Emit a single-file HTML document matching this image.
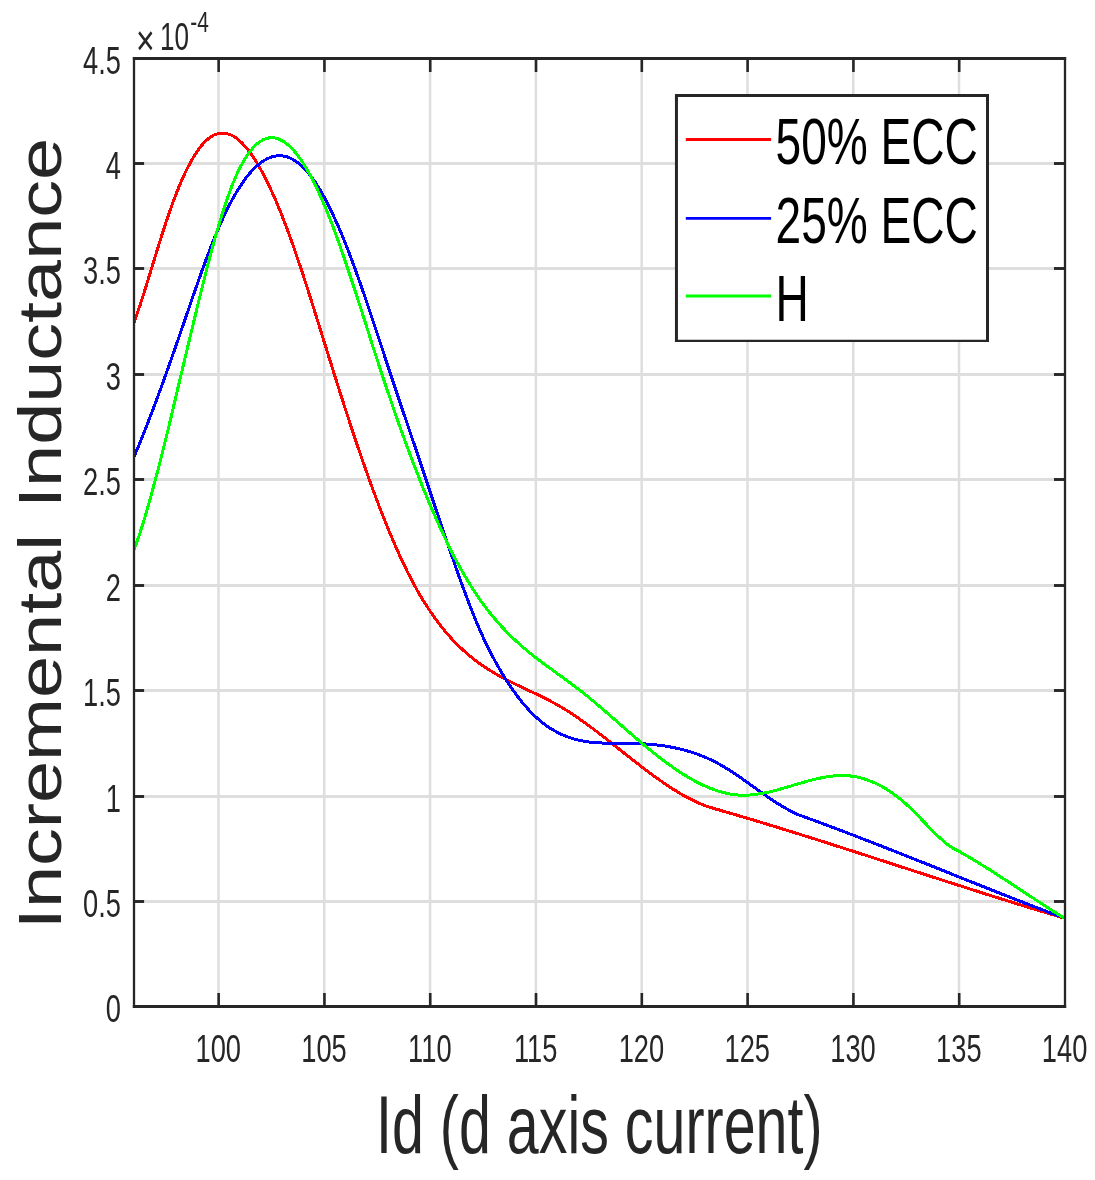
<!DOCTYPE html><html><head><meta charset="utf-8"><title>Incremental Inductance</title>
<style>html,body{margin:0;padding:0;background:#fff}svg{display:block;will-change:transform}text{font-family:"Liberation Sans",Arial,Helvetica,sans-serif}</style></head><body>
<svg width="1095" height="1180" viewBox="0 0 1095 1180">
<rect width="1095" height="1180" fill="#fff"/>
<g stroke="#dedede"><line x1="218.49" y1="58.50" x2="218.49" y2="1006.50" stroke-width="2.50"/><line x1="324.28" y1="58.50" x2="324.28" y2="1006.50" stroke-width="2.50"/><line x1="430.08" y1="58.50" x2="430.08" y2="1006.50" stroke-width="2.50"/><line x1="535.87" y1="58.50" x2="535.87" y2="1006.50" stroke-width="2.50"/><line x1="641.67" y1="58.50" x2="641.67" y2="1006.50" stroke-width="2.50"/><line x1="747.46" y1="58.50" x2="747.46" y2="1006.50" stroke-width="2.50"/><line x1="853.26" y1="58.50" x2="853.26" y2="1006.50" stroke-width="2.50"/><line x1="959.05" y1="58.50" x2="959.05" y2="1006.50" stroke-width="2.50"/><line x1="134.00" y1="901.50" x2="1065.00" y2="901.50" stroke-width="2.90"/><line x1="134.00" y1="796.50" x2="1065.00" y2="796.50" stroke-width="2.90"/><line x1="134.00" y1="690.50" x2="1065.00" y2="690.50" stroke-width="2.90"/><line x1="134.00" y1="585.50" x2="1065.00" y2="585.50" stroke-width="2.90"/><line x1="134.00" y1="479.50" x2="1065.00" y2="479.50" stroke-width="2.90"/><line x1="134.00" y1="374.50" x2="1065.00" y2="374.50" stroke-width="2.90"/><line x1="134.00" y1="268.50" x2="1065.00" y2="268.50" stroke-width="2.90"/><line x1="134.00" y1="163.50" x2="1065.00" y2="163.50" stroke-width="2.90"/></g>
<g fill="none" stroke-width="3.00" stroke-linejoin="round" transform="scale(1.000 1)" shape-rendering="crispEdges">
<path d="M134.0 323.0C135.0 320.1 138.0 311.4 140.0 305.3C142.0 299.2 144.0 292.8 146.0 286.4C148.0 280.0 150.0 273.4 152.0 266.9C154.0 260.4 156.0 253.8 158.0 247.4C160.0 241.0 162.0 234.6 164.0 228.4C166.0 222.3 168.0 216.3 170.0 210.6C172.0 204.9 174.0 199.5 176.0 194.3C178.0 189.2 180.0 184.4 182.0 179.8C184.0 175.3 186.0 171.0 188.0 167.1C190.0 163.2 192.0 159.6 194.0 156.3C196.0 153.1 198.0 150.1 200.0 147.5C202.0 144.9 204.0 142.7 206.0 140.7C208.0 138.8 210.0 137.3 212.0 136.1C214.0 134.9 216.0 134.1 218.0 133.6C220.0 133.1 222.0 132.9 224.0 133.1C226.0 133.3 228.0 133.8 230.0 134.6C232.0 135.4 234.0 136.5 236.0 137.9C238.0 139.3 240.0 141.0 242.0 143.0C244.0 145.0 246.0 147.3 248.0 149.8C250.0 152.4 252.0 155.2 254.0 158.2C256.0 161.3 258.0 164.6 260.0 168.1C262.0 171.6 264.0 175.4 266.0 179.4C268.0 183.4 270.0 187.6 272.0 192.0C274.0 196.4 276.0 201.0 278.0 205.8C280.0 210.6 282.0 215.6 284.0 220.8C286.0 226.0 288.0 231.3 290.0 236.8C292.0 242.3 294.0 248.0 296.0 253.8C298.0 259.6 300.0 265.5 302.0 271.6C304.0 277.6 306.0 283.8 308.0 290.1C310.0 296.4 312.0 302.7 314.0 309.1C316.0 315.5 318.0 322.0 320.0 328.4C322.0 334.8 324.0 341.3 326.0 347.7C328.0 354.1 330.0 360.5 332.0 366.9C334.0 373.3 336.0 379.7 338.0 386.0C340.0 392.3 342.0 398.6 344.0 404.8C346.0 411.0 348.0 417.2 350.0 423.3C352.0 429.4 354.0 435.4 356.0 441.4C358.0 447.3 360.0 453.2 362.0 459.0C364.0 464.7 366.0 470.4 368.0 476.0C370.0 481.6 372.0 487.1 374.0 492.5C376.0 497.9 378.0 503.2 380.0 508.4C382.0 513.5 384.0 518.6 386.0 523.6C388.0 528.5 390.0 533.3 392.0 538.0C394.0 542.7 396.0 547.3 398.0 551.8C400.0 556.2 402.0 560.5 404.0 564.7C406.0 568.9 408.0 572.9 410.0 576.8C412.0 580.7 414.0 584.5 416.0 588.1C418.0 591.7 420.0 595.1 422.0 598.5C424.0 601.8 426.0 605.0 428.0 608.0C430.0 611.1 432.0 614.0 434.0 616.8C436.0 619.6 438.0 622.3 440.0 624.9C442.0 627.5 444.0 629.9 446.0 632.3C448.0 634.7 450.0 636.9 452.0 639.1C454.0 641.2 456.0 643.3 458.0 645.3C460.0 647.3 462.0 649.1 464.0 650.9C466.0 652.7 468.0 654.5 470.0 656.1C472.0 657.8 474.0 659.3 476.0 660.8C478.0 662.4 480.0 663.8 482.0 665.2C484.0 666.6 486.0 667.9 488.0 669.2C490.0 670.4 492.0 671.7 494.0 672.8C496.0 674.0 498.0 675.1 500.0 676.3C502.0 677.4 504.0 678.4 506.0 679.5C508.0 680.5 510.0 681.5 512.0 682.5C514.0 683.5 516.0 684.5 518.0 685.4C520.0 686.4 522.0 687.3 524.0 688.3C526.0 689.2 528.0 690.2 530.0 691.1C532.0 692.0 534.0 693.0 536.0 693.9C538.0 694.9 540.0 695.9 542.0 696.8C544.0 697.8 546.0 698.8 548.0 699.9C550.0 700.9 552.0 702.0 554.0 703.0C556.0 704.1 558.0 705.3 560.0 706.4C562.0 707.6 564.0 708.8 566.0 710.0C568.0 711.3 570.0 712.6 572.0 713.9C574.0 715.2 576.0 716.6 578.0 717.9C580.0 719.3 582.0 720.7 584.0 722.2C586.0 723.6 588.0 725.1 590.0 726.5C592.0 728.0 594.0 729.5 596.0 731.0C598.0 732.6 600.0 734.1 602.0 735.6C604.0 737.2 606.0 738.7 608.0 740.3C610.0 741.9 612.0 743.5 614.0 745.0C616.0 746.6 618.0 748.2 620.0 749.8C622.0 751.4 624.0 753.0 626.0 754.6C628.0 756.1 630.0 757.7 632.0 759.3C634.0 760.9 636.0 762.4 638.0 764.0C640.0 765.5 642.0 767.1 644.0 768.6C646.0 770.1 648.0 771.6 650.0 773.1C652.0 774.6 654.0 776.1 656.0 777.5C658.0 778.9 660.0 780.4 662.0 781.7C664.0 783.1 666.0 784.5 668.0 785.8C670.0 787.1 672.0 788.4 674.0 789.7C676.0 791.0 678.0 792.2 680.0 793.4C682.0 794.5 684.0 795.7 686.0 796.8C688.0 797.9 690.0 798.9 692.0 799.9C694.0 800.9 696.0 801.8 698.0 802.7C700.0 803.6 702.0 804.5 704.0 805.3C706.0 806.0 709.0 807.1 710.0 807.4L710.0 807.4C711.0 807.6 714.0 808.5 716.0 809.1C718.0 809.6 720.0 810.2 722.0 810.8C724.0 811.4 726.0 812.0 728.0 812.5C730.0 813.1 732.0 813.7 734.0 814.3C736.0 814.9 738.0 815.5 740.0 816.1C742.0 816.7 744.0 817.3 746.0 817.8C748.0 818.4 750.0 819.0 752.0 819.6C754.0 820.2 756.0 820.8 758.0 821.4C760.0 822.1 762.0 822.7 764.0 823.3C766.0 823.9 768.0 824.5 770.0 825.1C772.0 825.7 774.0 826.3 776.0 826.9C778.0 827.5 780.0 828.2 782.0 828.8C784.0 829.4 786.0 830.0 788.0 830.6C790.0 831.3 792.0 831.9 794.0 832.5C796.0 833.1 798.0 833.8 800.0 834.4C802.0 835.0 804.0 835.6 806.0 836.3C808.0 836.9 810.0 837.5 812.0 838.1C814.0 838.8 816.0 839.4 818.0 840.0C820.0 840.7 822.0 841.3 824.0 841.9C826.0 842.6 828.0 843.2 830.0 843.9C832.0 844.5 834.0 845.1 836.0 845.8C838.0 846.4 840.0 847.1 842.0 847.7C844.0 848.3 846.0 849.0 848.0 849.6C850.0 850.3 852.0 850.9 854.0 851.5C856.0 852.2 858.0 852.8 860.0 853.5C862.0 854.1 864.0 854.8 866.0 855.4C868.0 856.1 870.0 856.7 872.0 857.4C874.0 858.0 876.0 858.7 878.0 859.3C880.0 859.9 882.0 860.6 884.0 861.2C886.0 861.9 888.0 862.5 890.0 863.2C892.0 863.8 894.0 864.5 896.0 865.1C898.0 865.8 900.0 866.4 902.0 867.1C904.0 867.7 906.0 868.4 908.0 869.0C910.0 869.7 912.0 870.3 914.0 871.0C916.0 871.6 918.0 872.3 920.0 872.9C922.0 873.6 924.0 874.2 926.0 874.9C928.0 875.5 930.0 876.1 932.0 876.8C934.0 877.4 936.0 878.1 938.0 878.7C940.0 879.4 942.0 880.0 944.0 880.7C946.0 881.3 948.0 882.0 950.0 882.6C952.0 883.2 954.0 883.9 956.0 884.5C958.0 885.2 960.0 885.8 962.0 886.4C964.0 887.1 966.0 887.7 968.0 888.4C970.0 889.0 972.0 889.6 974.0 890.3C976.0 890.9 978.0 891.5 980.0 892.2C982.0 892.8 984.0 893.4 986.0 894.1C988.0 894.7 990.0 895.3 992.0 896.0C994.0 896.6 996.0 897.2 998.0 897.9C1000.0 898.5 1002.0 899.1 1004.0 899.7C1006.0 900.4 1008.0 901.0 1010.0 901.6C1012.0 902.2 1014.0 902.9 1016.0 903.5C1018.0 904.1 1020.0 904.7 1022.0 905.3C1024.0 905.9 1026.0 906.6 1028.0 907.2C1030.0 907.8 1032.0 908.4 1034.0 909.0C1036.0 909.6 1038.0 910.2 1040.0 910.8C1042.0 911.4 1044.0 912.0 1046.0 912.6C1048.0 913.2 1050.0 913.8 1052.0 914.4C1054.0 915.0 1056.0 915.6 1058.0 916.2C1060.0 916.8 1063.0 917.7 1064.0 918.0" stroke="#ff0000"/>
<path d="M134.0 457.0C135.0 454.6 138.0 447.5 140.0 442.6C142.0 437.6 144.0 432.6 146.0 427.5C148.0 422.4 150.0 417.3 152.0 412.0C154.0 406.7 156.0 401.4 158.0 396.0C160.0 390.6 162.0 385.1 164.0 379.6C166.0 374.0 168.0 368.4 170.0 362.8C172.0 357.1 174.0 351.4 176.0 345.7C178.0 339.9 180.0 334.1 182.0 328.3C184.0 322.5 186.0 316.6 188.0 310.8C190.0 305.0 192.0 299.2 194.0 293.4C196.0 287.7 198.0 281.9 200.0 276.3C202.0 270.7 204.0 265.2 206.0 259.8C208.0 254.5 210.0 249.2 212.0 244.1C214.0 239.0 216.0 234.1 218.0 229.4C220.0 224.7 222.0 220.2 224.0 216.0C226.0 211.7 228.0 207.7 230.0 203.8C232.0 200.0 234.0 196.4 236.0 193.0C238.0 189.7 240.0 186.5 242.0 183.6C244.0 180.6 246.0 177.9 248.0 175.4C250.0 173.0 252.0 170.7 254.0 168.7C256.0 166.7 258.0 164.9 260.0 163.3C262.0 161.8 264.0 160.5 266.0 159.4C268.0 158.3 270.0 157.5 272.0 156.9C274.0 156.3 276.0 155.9 278.0 155.8C280.0 155.7 282.0 155.8 284.0 156.1C286.0 156.5 288.0 157.1 290.0 158.0C292.0 158.8 294.0 160.0 296.0 161.3C298.0 162.7 300.0 164.3 302.0 166.1C304.0 168.0 306.0 170.1 308.0 172.5C310.0 174.9 312.0 177.5 314.0 180.4C316.0 183.3 318.0 186.4 320.0 189.8C322.0 193.1 324.0 196.7 326.0 200.5C328.0 204.3 330.0 208.3 332.0 212.5C334.0 216.7 336.0 221.2 338.0 225.7C340.0 230.3 342.0 235.1 344.0 240.0C346.0 244.9 348.0 250.0 350.0 255.3C352.0 260.5 354.0 265.9 356.0 271.4C358.0 276.9 360.0 282.6 362.0 288.3C364.0 294.1 366.0 299.9 368.0 305.9C370.0 311.8 372.0 317.8 374.0 323.8C376.0 329.9 378.0 336.0 380.0 342.0C382.0 348.1 384.0 354.3 386.0 360.3C388.0 366.4 390.0 372.5 392.0 378.5C394.0 384.5 396.0 390.4 398.0 396.4C400.0 402.4 402.0 408.3 404.0 414.2C406.0 420.1 408.0 426.0 410.0 431.9C412.0 437.8 414.0 443.7 416.0 449.6C418.0 455.5 420.0 461.5 422.0 467.4C424.0 473.4 426.0 479.4 428.0 485.3C430.0 491.3 432.0 497.3 434.0 503.3C436.0 509.2 438.0 515.2 440.0 521.1C442.0 527.1 444.0 533.0 446.0 538.8C448.0 544.7 450.0 550.6 452.0 556.3C454.0 562.1 456.0 567.8 458.0 573.5C460.0 579.1 462.0 584.7 464.0 590.1C466.0 595.5 468.0 600.8 470.0 606.0C472.0 611.1 474.0 616.2 476.0 621.0C478.0 625.8 480.0 630.4 482.0 634.8C484.0 639.3 486.0 643.5 488.0 647.5C490.0 651.6 492.0 655.4 494.0 659.1C496.0 662.9 498.0 666.4 500.0 669.8C502.0 673.2 504.0 676.5 506.0 679.7C508.0 682.8 510.0 685.8 512.0 688.7C514.0 691.6 516.0 694.4 518.0 697.0C520.0 699.6 522.0 702.1 524.0 704.5C526.0 706.8 528.0 709.1 530.0 711.2C532.0 713.3 534.0 715.3 536.0 717.1C538.0 719.0 540.0 720.7 542.0 722.3C544.0 723.9 546.0 725.4 548.0 726.8C550.0 728.1 552.0 729.4 554.0 730.5C556.0 731.7 558.0 732.7 560.0 733.7C562.0 734.6 564.0 735.5 566.0 736.3C568.0 737.1 570.0 737.7 572.0 738.4C574.0 739.0 576.0 739.5 578.0 740.0C580.0 740.4 582.0 740.8 584.0 741.2C586.0 741.5 588.0 741.8 590.0 742.1C592.0 742.3 594.0 742.5 596.0 742.7C598.0 742.8 600.0 743.0 602.0 743.0C604.0 743.1 606.0 743.2 608.0 743.2C610.0 743.3 612.0 743.3 614.0 743.3C616.0 743.3 618.0 743.3 620.0 743.4C622.0 743.4 624.0 743.4 626.0 743.4C628.0 743.4 630.0 743.4 632.0 743.5C634.0 743.5 636.0 743.6 638.0 743.6C640.0 743.7 642.0 743.8 644.0 743.9C646.0 744.0 648.0 744.2 650.0 744.3C652.0 744.5 654.0 744.7 656.0 744.9C658.0 745.1 660.0 745.4 662.0 745.6C664.0 745.9 666.0 746.2 668.0 746.5C670.0 746.9 672.0 747.3 674.0 747.7C676.0 748.1 678.0 748.5 680.0 749.0C682.0 749.5 684.0 750.0 686.0 750.5C688.0 751.1 690.0 751.7 692.0 752.3C694.0 753.0 696.0 753.7 698.0 754.4C700.0 755.2 702.0 755.9 704.0 756.8C706.0 757.6 708.0 758.5 710.0 759.4C712.0 760.4 714.0 761.3 716.0 762.4C718.0 763.4 720.0 764.5 722.0 765.7C724.0 766.8 726.0 768.1 728.0 769.3C730.0 770.6 732.0 771.9 734.0 773.2C736.0 774.5 738.0 775.9 740.0 777.3C742.0 778.6 744.0 780.1 746.0 781.5C748.0 782.9 750.0 784.3 752.0 785.8C754.0 787.2 756.0 788.6 758.0 790.1C760.0 791.5 762.0 792.9 764.0 794.3C766.0 795.7 768.0 797.1 770.0 798.5C772.0 799.8 774.0 801.2 776.0 802.4C778.0 803.7 780.0 805.0 782.0 806.2C784.0 807.4 786.0 808.5 788.0 809.6C790.0 810.7 792.0 811.8 794.0 812.7C796.0 813.7 799.0 815.0 800.0 815.4L800.0 815.4C801.0 815.7 804.0 816.8 806.0 817.5C808.0 818.3 810.0 819.0 812.0 819.7C814.0 820.4 816.0 821.2 818.0 821.9C820.0 822.6 822.0 823.4 824.0 824.1C826.0 824.9 828.0 825.6 830.0 826.4C832.0 827.1 834.0 827.9 836.0 828.6C838.0 829.4 840.0 830.1 842.0 830.9C844.0 831.6 846.0 832.4 848.0 833.2C850.0 833.9 852.0 834.7 854.0 835.4C856.0 836.2 858.0 837.0 860.0 837.8C862.0 838.5 864.0 839.3 866.0 840.1C868.0 840.8 870.0 841.6 872.0 842.4C874.0 843.2 876.0 844.0 878.0 844.7C880.0 845.5 882.0 846.3 884.0 847.1C886.0 847.9 888.0 848.7 890.0 849.5C892.0 850.2 894.0 851.0 896.0 851.8C898.0 852.6 900.0 853.4 902.0 854.2C904.0 855.0 906.0 855.8 908.0 856.6C910.0 857.4 912.0 858.2 914.0 859.0C916.0 859.8 918.0 860.6 920.0 861.4C922.0 862.1 924.0 862.9 926.0 863.7C928.0 864.5 930.0 865.3 932.0 866.1C934.0 866.9 936.0 867.7 938.0 868.5C940.0 869.3 942.0 870.1 944.0 870.9C946.0 871.7 948.0 872.5 950.0 873.3C952.0 874.1 954.0 874.9 956.0 875.8C958.0 876.6 960.0 877.4 962.0 878.2C964.0 879.0 966.0 879.8 968.0 880.6C970.0 881.3 972.0 882.1 974.0 882.9C976.0 883.7 978.0 884.5 980.0 885.3C982.0 886.1 984.0 886.9 986.0 887.7C988.0 888.5 990.0 889.3 992.0 890.1C994.0 890.9 996.0 891.7 998.0 892.5C1000.0 893.3 1002.0 894.1 1004.0 894.9C1006.0 895.6 1008.0 896.4 1010.0 897.2C1012.0 898.0 1014.0 898.8 1016.0 899.6C1018.0 900.4 1020.0 901.1 1022.0 901.9C1024.0 902.7 1026.0 903.5 1028.0 904.3C1030.0 905.0 1032.0 905.8 1034.0 906.6C1036.0 907.3 1038.0 908.1 1040.0 908.9C1042.0 909.7 1044.0 910.4 1046.0 911.2C1048.0 911.9 1050.0 912.7 1052.0 913.5C1054.0 914.2 1056.0 915.0 1058.0 915.7C1060.0 916.5 1063.0 917.6 1064.0 918.0" stroke="#0000ff"/>
<path d="M134.0 550.0C135.0 547.2 138.0 538.9 140.0 532.9C142.0 526.8 144.0 520.3 146.0 513.6C147.9 506.9 149.9 499.9 151.9 492.6C153.9 485.4 155.9 477.9 157.9 470.2C159.9 462.5 161.9 454.6 163.9 446.6C165.9 438.5 167.9 430.3 169.9 422.1C171.9 413.8 173.9 405.4 175.8 397.0C177.8 388.6 179.8 380.2 181.8 371.7C183.8 363.3 185.8 354.8 187.8 346.5C189.8 338.1 191.8 329.7 193.8 321.4C195.8 313.2 197.8 304.9 199.8 296.9C201.8 288.8 203.7 280.8 205.7 273.0C207.7 265.2 209.7 257.6 211.7 250.2C213.7 242.8 215.7 235.6 217.7 228.8C219.7 222.0 221.7 215.4 223.7 209.3C225.7 203.1 227.7 197.3 229.7 191.9C231.6 186.5 233.6 181.6 235.6 177.0C237.6 172.5 239.6 168.4 241.6 164.7C243.6 161.0 245.6 157.7 247.6 154.8C249.6 151.9 251.6 149.4 253.6 147.2C255.6 145.1 257.6 143.3 259.5 141.9C261.5 140.5 263.5 139.5 265.5 138.8C267.5 138.1 269.5 137.7 271.5 137.7C273.5 137.7 275.5 138.0 277.5 138.6C279.5 139.3 281.5 140.2 283.5 141.5C285.4 142.7 287.4 144.3 289.4 146.1C291.4 148.0 293.4 150.1 295.4 152.5C297.4 154.9 299.4 157.6 301.4 160.5C303.4 163.5 305.4 166.7 307.4 170.1C309.4 173.6 311.4 177.3 313.3 181.2C315.3 185.1 317.3 189.2 319.3 193.6C321.3 198.0 323.3 202.6 325.3 207.3C327.3 212.1 329.3 217.1 331.3 222.3C333.3 227.4 335.3 232.8 337.3 238.3C339.3 243.8 341.2 249.5 343.2 255.2C345.2 261.0 347.2 266.9 349.2 272.9C351.2 278.9 353.2 285.0 355.2 291.1C357.2 297.2 359.2 303.4 361.2 309.7C363.2 315.9 365.2 322.1 367.2 328.4C369.1 334.6 371.1 340.9 373.1 347.1C375.1 353.3 377.1 359.5 379.1 365.6C381.1 371.7 383.1 377.8 385.1 383.7C387.1 389.7 389.1 395.6 391.1 401.4C393.1 407.3 395.1 413.0 397.0 418.7C399.0 424.3 401.0 429.9 403.0 435.4C405.0 440.9 407.0 446.4 409.0 451.7C411.0 457.0 413.0 462.3 415.0 467.5C417.0 472.6 419.0 477.7 421.0 482.7C422.9 487.7 424.9 492.6 426.9 497.3C428.9 502.1 430.9 506.8 432.9 511.4C434.9 516.0 436.9 520.5 438.9 524.9C440.9 529.3 442.9 533.6 444.9 537.8C446.9 541.9 448.9 546.0 450.8 550.0C452.8 553.9 454.8 557.8 456.8 561.5C458.8 565.2 460.8 568.9 462.8 572.4C464.8 575.9 466.8 579.2 468.8 582.5C470.8 585.8 472.8 588.9 474.8 591.9C476.8 594.9 478.7 597.8 480.7 600.7C482.7 603.5 484.7 606.2 486.7 608.8C488.7 611.4 490.7 613.9 492.7 616.3C494.7 618.7 496.7 621.0 498.7 623.3C500.7 625.5 502.7 627.7 504.7 629.8C506.6 631.9 508.6 633.9 510.6 635.9C512.6 637.8 514.6 639.7 516.6 641.5C518.6 643.4 520.6 645.1 522.6 646.9C524.6 648.6 526.6 650.3 528.6 651.9C530.6 653.5 532.6 655.1 534.5 656.7C536.5 658.2 538.5 659.8 540.5 661.3C542.5 662.8 544.5 664.3 546.5 665.7C548.5 667.2 550.5 668.6 552.5 670.1C554.5 671.5 556.5 672.9 558.5 674.4C560.4 675.8 562.4 677.3 564.4 678.7C566.4 680.2 568.4 681.6 570.4 683.1C572.4 684.6 574.4 686.0 576.4 687.6C578.4 689.1 580.4 690.6 582.4 692.2C584.4 693.8 586.4 695.4 588.3 697.0C590.3 698.7 592.3 700.3 594.3 702.0C596.3 703.7 598.3 705.4 600.3 707.1C602.3 708.8 604.3 710.5 606.3 712.2C608.3 714.0 610.3 715.7 612.3 717.5C614.3 719.2 616.2 721.0 618.2 722.7C620.2 724.5 622.2 726.2 624.2 728.0C626.2 729.7 628.2 731.5 630.2 733.2C632.2 734.9 634.2 736.6 636.2 738.3C638.2 740.1 640.2 741.7 642.2 743.4C644.1 745.1 646.1 746.8 648.1 748.4C650.1 750.0 652.1 751.6 654.1 753.2C656.1 754.8 658.1 756.4 660.1 757.9C662.1 759.4 664.1 761.0 666.1 762.4C668.1 763.9 670.1 765.3 672.0 766.7C674.0 768.1 676.0 769.5 678.0 770.8C680.0 772.2 682.0 773.5 684.0 774.7C686.0 775.9 688.0 777.2 690.0 778.3C692.0 779.5 694.0 780.6 696.0 781.6C697.9 782.7 699.9 783.7 701.9 784.6C703.9 785.6 705.9 786.5 707.9 787.3C709.9 788.1 711.9 788.9 713.9 789.6C715.9 790.3 717.9 791.0 719.9 791.6C721.9 792.2 723.9 792.7 725.8 793.1C727.8 793.6 729.8 794.0 731.8 794.3C733.8 794.6 735.8 794.8 737.8 795.0C739.8 795.1 741.8 795.2 743.8 795.2C745.8 795.2 747.8 795.1 749.8 795.0C751.8 794.9 753.7 794.7 755.7 794.4C757.7 794.1 759.7 793.8 761.7 793.5C763.7 793.1 765.7 792.7 767.7 792.3C769.7 791.8 771.7 791.4 773.7 790.9C775.7 790.4 777.7 789.8 779.7 789.3C781.6 788.7 783.6 788.1 785.6 787.6C787.6 787.0 789.6 786.4 791.6 785.8C793.6 785.2 795.6 784.6 797.6 784.0C799.6 783.4 801.6 782.8 803.6 782.2C805.6 781.7 807.6 781.1 809.5 780.6C811.5 780.1 813.5 779.6 815.5 779.1C817.5 778.6 819.5 778.2 821.5 777.8C823.5 777.4 825.5 777.0 827.5 776.7C829.5 776.4 831.5 776.2 833.5 776.0C835.4 775.8 837.4 775.7 839.4 775.6C841.4 775.5 843.4 775.5 845.4 775.6C847.4 775.7 849.4 775.9 851.4 776.1C853.4 776.4 855.4 776.7 857.4 777.1C859.4 777.5 861.4 778.0 863.3 778.6C865.3 779.2 867.3 779.9 869.3 780.7C871.3 781.4 873.3 782.2 875.3 783.2C877.3 784.1 879.3 785.1 881.3 786.2C883.3 787.3 885.3 788.5 887.3 789.7C889.3 791.0 891.2 792.3 893.2 793.8C895.2 795.2 897.2 796.7 899.2 798.3C901.2 799.9 903.2 801.6 905.2 803.3C907.2 805.1 909.2 806.9 911.2 808.9C913.2 810.8 915.2 812.8 917.2 814.8C919.1 816.9 921.1 819.0 923.1 821.1C925.1 823.1 927.1 825.3 929.1 827.3C931.1 829.4 933.1 831.4 935.1 833.4C937.1 835.3 939.1 837.2 941.1 839.0C943.1 840.8 945.1 842.5 947.0 844.1C949.0 845.6 951.0 847.0 953.0 848.3C955.0 849.5 958.0 850.9 959.0 851.4L959.0 851.4C960.0 851.9 962.9 853.6 964.8 854.7C966.8 855.8 968.7 857.0 970.7 858.1C972.6 859.3 974.6 860.4 976.5 861.6C978.4 862.8 980.4 864.0 982.3 865.2C984.3 866.4 986.2 867.6 988.2 868.8C990.1 870.0 992.1 871.3 994.0 872.5C995.9 873.8 997.9 875.0 999.8 876.3C1001.8 877.5 1003.7 878.8 1005.7 880.1C1007.6 881.3 1009.6 882.6 1011.5 883.9C1013.4 885.1 1015.4 886.4 1017.3 887.7C1019.3 889.0 1021.2 890.3 1023.2 891.5C1025.1 892.8 1027.1 894.1 1029.0 895.4C1030.9 896.7 1032.9 898.0 1034.8 899.2C1036.8 900.5 1038.7 901.8 1040.7 903.1C1042.6 904.3 1044.6 905.6 1046.5 906.9C1048.4 908.1 1050.4 909.4 1052.3 910.6C1054.3 911.9 1056.2 913.1 1058.2 914.3C1060.1 915.6 1063.0 917.4 1064.0 918.0" stroke="#00ff00"/>
</g>
<g stroke="#262626"><line x1="218.64" y1="1006.50" x2="218.64" y2="993.00" stroke-width="2.60"/><line x1="218.64" y1="58.50" x2="218.64" y2="72.00" stroke-width="2.60"/><line x1="324.43" y1="1006.50" x2="324.43" y2="993.00" stroke-width="2.60"/><line x1="324.43" y1="58.50" x2="324.43" y2="72.00" stroke-width="2.60"/><line x1="430.23" y1="1006.50" x2="430.23" y2="993.00" stroke-width="2.60"/><line x1="430.23" y1="58.50" x2="430.23" y2="72.00" stroke-width="2.60"/><line x1="536.02" y1="1006.50" x2="536.02" y2="993.00" stroke-width="2.60"/><line x1="536.02" y1="58.50" x2="536.02" y2="72.00" stroke-width="2.60"/><line x1="641.82" y1="1006.50" x2="641.82" y2="993.00" stroke-width="2.60"/><line x1="641.82" y1="58.50" x2="641.82" y2="72.00" stroke-width="2.60"/><line x1="747.61" y1="1006.50" x2="747.61" y2="993.00" stroke-width="2.60"/><line x1="747.61" y1="58.50" x2="747.61" y2="72.00" stroke-width="2.60"/><line x1="853.41" y1="1006.50" x2="853.41" y2="993.00" stroke-width="2.60"/><line x1="853.41" y1="58.50" x2="853.41" y2="72.00" stroke-width="2.60"/><line x1="959.20" y1="1006.50" x2="959.20" y2="993.00" stroke-width="2.60"/><line x1="959.20" y1="58.50" x2="959.20" y2="72.00" stroke-width="2.60"/><line x1="134.00" y1="901.50" x2="144.10" y2="901.50" stroke-width="2.90"/><line x1="1065.00" y1="901.50" x2="1054.00" y2="901.50" stroke-width="2.90"/><line x1="134.00" y1="796.50" x2="144.10" y2="796.50" stroke-width="2.90"/><line x1="1065.00" y1="796.50" x2="1054.00" y2="796.50" stroke-width="2.90"/><line x1="134.00" y1="690.50" x2="144.10" y2="690.50" stroke-width="2.90"/><line x1="1065.00" y1="690.50" x2="1054.00" y2="690.50" stroke-width="2.90"/><line x1="134.00" y1="585.50" x2="144.10" y2="585.50" stroke-width="2.90"/><line x1="1065.00" y1="585.50" x2="1054.00" y2="585.50" stroke-width="2.90"/><line x1="134.00" y1="479.50" x2="144.10" y2="479.50" stroke-width="2.90"/><line x1="1065.00" y1="479.50" x2="1054.00" y2="479.50" stroke-width="2.90"/><line x1="134.00" y1="374.50" x2="144.10" y2="374.50" stroke-width="2.90"/><line x1="1065.00" y1="374.50" x2="1054.00" y2="374.50" stroke-width="2.90"/><line x1="134.00" y1="268.50" x2="144.10" y2="268.50" stroke-width="2.90"/><line x1="1065.00" y1="268.50" x2="1054.00" y2="268.50" stroke-width="2.90"/><line x1="134.00" y1="163.50" x2="144.10" y2="163.50" stroke-width="2.90"/><line x1="1065.00" y1="163.50" x2="1054.00" y2="163.50" stroke-width="2.90"/></g>
<g stroke="#262626">
<line x1="132.85" y1="58.50" x2="1066.15" y2="58.50" stroke-width="2.90"/>
<line x1="132.85" y1="1006.50" x2="1066.15" y2="1006.50" stroke-width="2.90"/>
<line x1="134.00" y1="57.05" x2="134.00" y2="1007.95" stroke-width="2.30"/>
<line x1="1065.00" y1="57.05" x2="1065.00" y2="1007.95" stroke-width="2.30"/>
</g>
<text transform="translate(218.24 1061.80) scale(0.7120 1)" font-size="38.30" text-anchor="middle" fill="#262626">100</text>
<text transform="translate(324.03 1061.80) scale(0.7120 1)" font-size="38.30" text-anchor="middle" fill="#262626">105</text>
<text transform="translate(429.83 1061.80) scale(0.7120 1)" font-size="38.30" text-anchor="middle" fill="#262626">110</text>
<text transform="translate(535.62 1061.80) scale(0.7120 1)" font-size="38.30" text-anchor="middle" fill="#262626">115</text>
<text transform="translate(641.42 1061.80) scale(0.7120 1)" font-size="38.30" text-anchor="middle" fill="#262626">120</text>
<text transform="translate(747.21 1061.80) scale(0.7120 1)" font-size="38.30" text-anchor="middle" fill="#262626">125</text>
<text transform="translate(853.01 1061.80) scale(0.7120 1)" font-size="38.30" text-anchor="middle" fill="#262626">130</text>
<text transform="translate(958.80 1061.80) scale(0.7120 1)" font-size="38.30" text-anchor="middle" fill="#262626">135</text>
<text transform="translate(1064.60 1061.80) scale(0.7120 1)" font-size="38.30" text-anchor="middle" fill="#262626">140</text>
<text transform="translate(121.00 1022.20) scale(0.7120 1)" font-size="38.30" text-anchor="end" fill="#262626">0</text>
<text transform="translate(121.00 917.20) scale(0.7120 1)" font-size="38.30" text-anchor="end" fill="#262626">0.5</text>
<text transform="translate(121.00 812.20) scale(0.7120 1)" font-size="38.30" text-anchor="end" fill="#262626">1</text>
<text transform="translate(121.00 706.20) scale(0.7120 1)" font-size="38.30" text-anchor="end" fill="#262626">1.5</text>
<text transform="translate(121.00 601.20) scale(0.7120 1)" font-size="38.30" text-anchor="end" fill="#262626">2</text>
<text transform="translate(121.00 495.20) scale(0.7120 1)" font-size="38.30" text-anchor="end" fill="#262626">2.5</text>
<text transform="translate(121.00 390.20) scale(0.7120 1)" font-size="38.30" text-anchor="end" fill="#262626">3</text>
<text transform="translate(121.00 284.20) scale(0.7120 1)" font-size="38.30" text-anchor="end" fill="#262626">3.5</text>
<text transform="translate(121.00 179.20) scale(0.7120 1)" font-size="38.30" text-anchor="end" fill="#262626">4</text>
<text transform="translate(121.00 74.20) scale(0.7120 1)" font-size="38.30" text-anchor="end" fill="#262626">4.5</text>
<text transform="translate(135.90 55.30) scale(0.7370 1)" font-size="43.29" text-anchor="start" fill="#262626">×</text>
<text transform="translate(160.00 50.00) scale(0.6800 1)" font-size="38.30" text-anchor="start" fill="#262626">10</text>
<text transform="translate(190.30 31.90) scale(0.7100 1)" font-size="29.40" text-anchor="start" fill="#262626">-4</text>
<text transform="translate(599.30 1152.70) scale(0.7000 1)" font-size="82.00" text-anchor="middle" fill="#262626">Id (d axis current)</text>
<text transform="translate(60.50 533.50) rotate(-90) scale(0.9225 0.7540)" font-size="82.00" text-anchor="middle" word-spacing="5.4" fill="#262626">Incremental Inductance</text>
<rect x="676.45" y="95.50" width="311.05" height="245.40" fill="#fff" stroke="none"/>
<g stroke="#262626">
<line x1="674.95" y1="95.50" x2="989.00" y2="95.50" stroke-width="3.00"/>
<line x1="674.95" y1="340.90" x2="989.00" y2="340.90" stroke-width="2.20"/>
<line x1="676.45" y1="95.50" x2="676.45" y2="341.90" stroke-width="3.00"/>
<line x1="987.50" y1="95.50" x2="987.50" y2="341.90" stroke-width="3.00"/>
</g>
<line x1="685.8" y1="139.50" x2="771.1" y2="139.50" stroke="#ff0000" stroke-width="2.8"/>
<text transform="translate(775.60 164.20) scale(0.7090 1)" font-size="65.00" fill="#000">50% ECC</text>
<line x1="685.8" y1="218.30" x2="771.1" y2="218.30" stroke="#0000ff" stroke-width="2.8"/>
<text transform="translate(775.60 242.50) scale(0.7090 1)" font-size="65.00" fill="#000">25% ECC</text>
<line x1="685.8" y1="296.00" x2="771.1" y2="296.00" stroke="#00ff00" stroke-width="2.8"/>
<text transform="translate(775.60 321.10) scale(0.7090 1)" font-size="65.00" fill="#000">H</text>
</svg></body></html>
